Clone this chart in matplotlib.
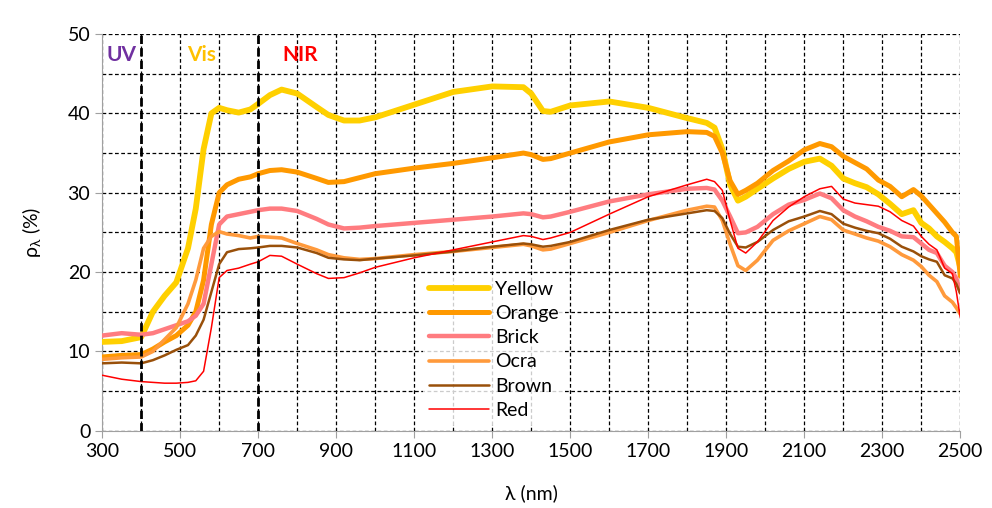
import numpy as np
import matplotlib.pyplot as plt
from matplotlib.ticker import MultipleLocator

# wavelengths (nm) shared by all samples
wl = [300, 350, 400, 430, 460, 490, 520, 540, 560, 580,
      600, 620, 650, 680, 700, 730, 760, 800, 850, 880,
      920, 960, 1000, 1100, 1200, 1300, 1380, 1400, 1430, 1450,
      1500, 1600, 1700, 1800, 1850, 1870, 1890, 1910, 1930, 1950,
      1980, 2020, 2060, 2100, 2140, 2170, 2200, 2230, 2260, 2290,
      2320, 2350, 2380, 2400, 2420, 2440, 2460, 2480, 2490, 2500]

# reflectance (%)
yellow = [11.2, 11.3, 11.8, 15.0, 17.0, 18.7, 23.0, 28.0, 35.5, 40.0,
          40.7, 40.4, 40.1, 40.5, 41.2, 42.3, 43.0, 42.5, 40.8, 39.8,
          39.1, 39.1, 39.5, 41.1, 42.7, 43.4, 43.3, 42.5, 40.3, 40.2,
          41.0, 41.5, 40.7, 39.4, 38.8, 38.2, 35.5, 31.0, 29.0, 29.5,
          30.5, 31.8, 33.0, 33.9, 34.3, 33.4, 31.8, 31.2, 30.7, 29.8,
          28.6, 27.3, 27.8, 26.2, 25.5, 24.5, 23.8, 23.0, 22.5, 20.6]
orange = [9.3, 9.5, 9.6, 10.3, 11.2, 12.0, 13.3, 15.0, 19.0, 26.0,
          30.0, 31.0, 31.7, 32.0, 32.4, 32.8, 32.9, 32.6, 31.8, 31.3,
          31.4, 31.9, 32.4, 33.1, 33.7, 34.4, 35.0, 34.8, 34.2, 34.3,
          35.0, 36.4, 37.3, 37.7, 37.6, 37.1, 35.0, 31.5, 29.8, 30.3,
          31.2, 32.8, 34.0, 35.4, 36.2, 35.8, 34.6, 33.8, 33.0, 31.6,
          30.8, 29.5, 30.4, 29.6, 28.5, 27.4, 26.3, 25.0, 24.5, 19.5]
brick = [12.0, 12.3, 12.1, 12.3, 12.8, 13.3, 13.8, 14.5, 16.0, 21.0,
         26.0, 27.0, 27.3, 27.6, 27.8, 28.0, 28.0, 27.7, 26.7, 26.0,
         25.5, 25.6, 25.8, 26.2, 26.6, 27.0, 27.4, 27.3, 26.9, 27.0,
         27.6, 28.9, 29.8, 30.5, 30.6, 30.4, 29.0, 27.0, 24.9, 25.0,
         25.7, 27.3, 28.5, 29.1, 29.9, 29.3, 27.8, 27.0, 26.4, 25.7,
         25.2, 24.5, 24.4, 23.6, 22.8, 22.4, 20.8, 20.0, 19.2, 17.5]
ocra = [9.0, 9.2, 9.3, 10.0, 11.5, 13.0, 16.0, 19.0, 23.0, 24.5,
        25.1, 24.8, 24.6, 24.3, 24.5, 24.4, 24.3, 23.6, 22.8, 22.2,
        21.8, 21.6, 21.7, 22.2, 22.6, 23.1, 23.5, 23.3, 22.8, 22.9,
        23.6, 25.0, 26.5, 27.8, 28.3, 28.2, 26.5, 23.5, 20.8, 20.2,
        21.5, 24.0, 25.2, 26.1, 27.0, 26.6, 25.3, 24.8, 24.3, 23.9,
        23.2, 22.2, 21.5, 20.7, 19.6, 18.8, 17.0, 16.2, 15.5, 14.7]
brown = [8.5, 8.6, 8.5, 8.9, 9.5, 10.2, 10.8, 12.0, 14.0, 17.5,
         21.0, 22.5, 22.9, 23.0, 23.1, 23.3, 23.3, 23.1, 22.4, 21.8,
         21.6, 21.5, 21.7, 22.1, 22.6, 23.2, 23.6, 23.5, 23.2, 23.3,
         23.8, 25.3, 26.6, 27.4, 27.8, 27.7, 26.8, 24.8, 23.2, 23.1,
         23.8, 25.3, 26.4, 27.0, 27.7, 27.3, 26.1, 25.6, 25.2, 24.9,
         24.2, 23.2, 22.6, 22.0, 21.6, 21.3, 19.6, 19.2, 18.5, 17.3]
red = [7.0, 6.5, 6.2, 6.1, 6.0, 6.0, 6.1, 6.3, 7.5, 13.0,
       19.3, 20.2, 20.5, 21.0, 21.3, 22.1, 22.0, 21.0, 19.8, 19.2,
       19.3, 19.9, 20.6, 21.8, 22.8, 23.8, 24.6, 24.5, 24.1, 24.3,
       25.0, 27.3, 29.5, 31.0, 31.7, 31.4, 30.3, 26.5, 23.0, 22.4,
       23.8, 26.5, 28.2, 29.5, 30.5, 30.8, 29.2, 28.7, 28.5, 28.3,
       27.6, 26.5, 25.8, 24.5, 23.5, 22.8, 20.5, 19.8, 17.5, 14.3]

names = ["Yellow", "Orange", "Brick", "Ocra", "Brown", "Red"]
colors = ["#FFD000", "#FF9900", "#FF7C80", "#FF9A3C", "#99500A", "#FF0000"]
widths = [4.2, 3.6, 3.2, 2.6, 1.8, 1.1]

plt.rcParams['font.family'] = ['Lato', 'DejaVu Sans']

fig = plt.figure(figsize=(9.92, 5.08), dpi=100)
ax = fig.add_axes([0.103, 0.152, 0.865, 0.781])

for vals, name, c, lw in zip([yellow, orange, brick, ocra, brown, red], names, colors, widths):
    ax.plot(wl, vals, color=c, lw=lw, label=name, zorder=3, solid_capstyle='round')

# region borders UV / Vis / NIR
for b in [400, 700]:
    ax.axvline(b, color="black", lw=2, ls=(0, (3, 1.5)), zorder=5)

ax.text(310, 47.3, "UV", color="#7030A0", fontsize=15, fontweight="bold", va="center")
ax.text(518, 47.3, "Vis", color="#FFC000", fontsize=15, fontweight="bold", va="center")
ax.text(762, 47.3, "NIR", color="#FF0000", fontsize=15, fontweight="bold", va="center")

ax.set_xlim(300, 2500)
ax.set_ylim(0, 50)
ax.set_xticks(np.arange(300, 2501, 200))
ax.xaxis.set_minor_locator(MultipleLocator(100))
ax.yaxis.set_major_locator(MultipleLocator(10))
ax.yaxis.set_minor_locator(MultipleLocator(5))
ax.grid(True, which="both", color="black", lw=0.9, ls=(0, (3, 2)), zorder=1)
ax.set_axisbelow(True)
ax.tick_params(which="major", direction="out", length=5, color="#A0A0A0", labelsize=14)
ax.tick_params(which="minor", length=0)
for s in ["top", "right"]:
    ax.spines[s].set_visible(False)
for s in ["left", "bottom"]:
    ax.spines[s].set_color("#A0A0A0")

ax.set_xlabel("λ (nm)", fontsize=14, labelpad=18)
ax.set_ylabel(r"ρ$_{\mathregular{λ}}$ (%)", fontsize=14, labelpad=17)

leg = ax.legend(loc="upper left", bbox_to_anchor=(0.363, 0.417), frameon=True,
                fontsize=14, handlelength=3.1, handletextpad=0.3, labelspacing=0.37,
                borderpad=0.3, framealpha=0.8, edgecolor="none")
leg.get_frame().set_facecolor("white")
leg.set_zorder(6)

fig.savefig("out.png", dpi=100)
